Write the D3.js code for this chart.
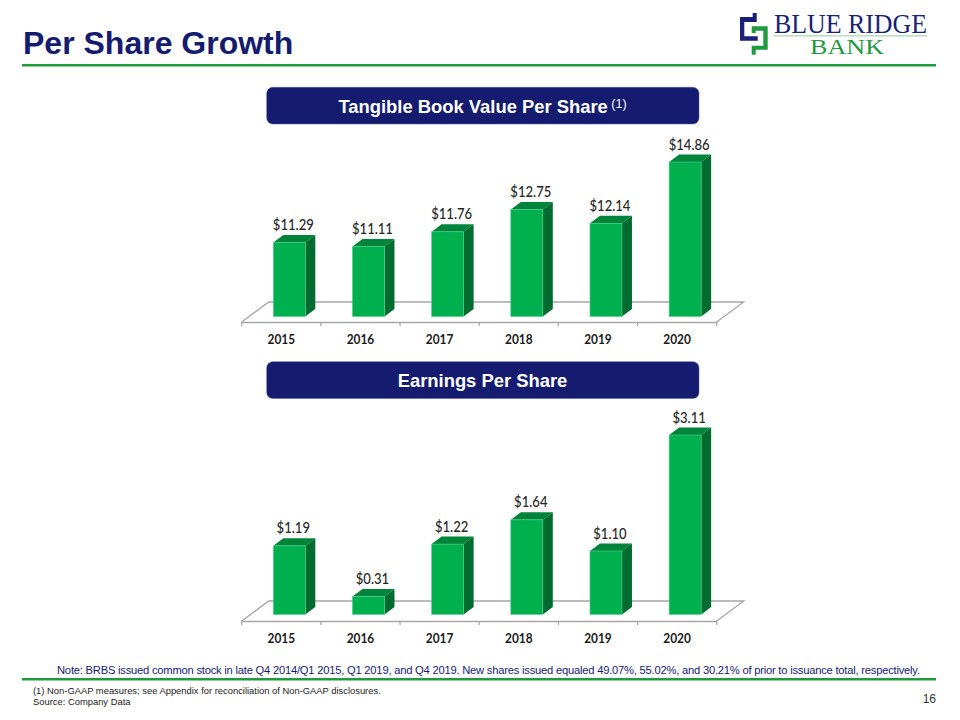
<!DOCTYPE html>
<html>
<head>
<meta charset="utf-8">
<script src="https://cdn.jsdelivr.net/npm/d3@7"></script>
<style>
  html, body { margin: 0; padding: 0; background: #fff; }
  svg { display: block; }
</style>
</head>
<body>
<svg width="960" height="720"></svg>
<script>
const years = ["2015", "2016", "2017", "2018", "2019", "2020"];
const tbvValues = [11.29, 11.11, 11.76, 12.75, 12.14, 14.86];
const epsValues = [1.19, 0.31, 1.22, 1.64, 1.10, 3.11];

const navy = "#151c70";
const green = "#1f9a3e";
const sans = "'Liberation Sans', Arial, sans-serif";
const labelFont = "Lato, Carlito, sans-serif";
const svg = d3.select("svg");

// squeeze Lato down to about the width Calibri had in the slide
function narrow(sel, k) {
  sel.each(function () {
    d3.select(this).attr("textLength", this.getComputedTextLength() * k).attr("lengthAdjust", "spacingAndGlyphs");
  });
}

// slide furniture
svg.append("text").attr("x", 23).attr("y", 54)
  .attr("font-family", sans).attr("font-weight", 700).attr("font-size", 32)
  .attr("fill", navy).text("Per Share Growth");

svg.append("rect").attr("x", 22).attr("y", 64).attr("width", 914).attr("height", 2.5).attr("fill", green);
svg.append("rect").attr("x", 22).attr("y", 678).attr("width", 914).attr("height", 2.5).attr("fill", green);

// logo
const logo = svg.append("g");
logo.append("path").attr("fill", "#1a1f78")
  .attr("d", "M752.7 13 H756.7 V22 H744.3 V36.3 H757.7 V40.7 H740 V17 H752.7 Z");
logo.append("path").attr("fill", green)
  .attr("d", "M751.7 26.3 H767.7 V49.7 H755.7 V54.7 H751.7 V45.7 H763.3 V30.7 H755.7 V33 H751.7 Z");
logo.append("text").attr("x", 774).attr("y", 33)
  .attr("font-family", "'Liberation Serif', serif").attr("font-size", 28).attr("fill", "#1a1f78")
  .attr("textLength", 153).attr("lengthAdjust", "spacingAndGlyphs").text("BLUE RIDGE");
logo.append("rect").attr("x", 774).attr("y", 35.5).attr("width", 153).attr("height", 0.8).attr("fill", "#7dbb8d");
logo.append("text").attr("x", 810).attr("y", 53.5)
  .attr("font-family", "'Liberation Serif', serif").attr("font-size", 21).attr("fill", green)
  .attr("textLength", 74).attr("lengthAdjust", "spacingAndGlyphs").text("BANK");

function banner(y, label, note) {
  svg.append("rect").attr("x", 266.7).attr("y", y).attr("width", 432.3).attr("height", 36.7).attr("rx", 6)
    .attr("fill", navy).attr("stroke", "#4a5a9a").attr("stroke-width", 0.5);
  const t = svg.append("text").attr("x", 482.5).attr("y", y + 25.4).attr("text-anchor", "middle")
    .attr("font-family", sans).attr("font-weight", 700).attr("font-size", 18.4).attr("fill", "#fff")
    .text(label);
  if (note) {
    t.append("tspan").attr("font-size", 12.5).attr("font-weight", 400).attr("dy", -5).text(" " + note);
  }
}
banner(87.3, "Tangible Book Value Per Share", "(1)");
banner(361.7, "Earnings Per Share");

function bars3d(values, domain, frontY, barBase, pxHeight) {
  const x = d3.scaleBand().domain(years).range([241.7, 716.7]);
  const y = d3.scaleLinear().domain(domain).range([barBase, barBase - pxHeight]);
  const dx = 10, dy = 7.5, barW = 32, floorX = 27, floorY = 20;
  const g = svg.append("g");

  // floor
  const left = x.range()[0], right = x.range()[1];
  g.append("path").attr("fill", "none").attr("stroke", "#a6a6a6").attr("stroke-width", 1.3)
    .attr("d", d3.line()([[left, frontY], [left + floorX, frontY - floorY], [right + floorX, frontY - floorY], [right, frontY]]));

  // category axis, ticks sit on the band edges
  const axis = g.append("g").attr("transform", `translate(0,${frontY})`)
    .call(d3.axisBottom(x).tickSize(0).tickPadding(12));
  axis.select(".domain").attr("stroke", "#a6a6a6").attr("stroke-width", 1.3);
  axis.selectAll("text").attr("font-family", labelFont).attr("font-weight", 700)
    .attr("font-size", 13.5).attr("fill", "#1a1a1a").call(narrow, 0.88);
  g.selectAll(".edge").data([...years.map(d => x(d)), right]).join("line").attr("class", "edge")
    .attr("x1", d => d).attr("x2", d => d).attr("y1", frontY).attr("y2", frontY + 4)
    .attr("stroke", "#a6a6a6").attr("stroke-width", 1.2);

  const bar = g.selectAll(".bar").data(values).join("g").attr("class", "bar")
    .attr("transform", (d, i) => `translate(${x(years[i]) + 31.6},0)`);
  bar.append("path").attr("fill", "#00843a")
    .attr("d", d => `M0 ${y(d)} l${dx} ${-dy} h${barW} l${-dx} ${dy} Z`);
  bar.append("path").attr("fill", "#006c2f")
    .attr("d", d => `M${barW} ${y(d)} l${dx} ${-dy} V${barBase - dy} l${-dx} ${dy} Z`);
  bar.append("rect").attr("width", barW).attr("y", d => y(d)).attr("height", d => barBase - y(d))
    .attr("fill", "#00b04f").attr("stroke", "#4fd08a").attr("stroke-width", 0.6);
  bar.append("text").attr("x", (barW + dx) / 2 - 1).attr("y", d => y(d) - 12.5).attr("text-anchor", "middle")
    .attr("font-family", labelFont).attr("font-weight", 500).attr("font-size", 14.5).attr("fill", "#262626")
    .text(d => "$" + d.toFixed(2)).call(narrow, 0.9);
}
bars3d(tbvValues, [8, 14.86], 322, 316.5, 154.5);
bars3d(epsValues, [0, 3.11], 621, 614.5, 179.5);

// notes
svg.append("text").attr("x", 57).attr("y", 674).attr("font-family", sans).attr("font-size", 11.2).attr("fill", navy)
  .attr("textLength", 863).attr("lengthAdjust", "spacing")
  .text("Note: BRBS issued common stock in late Q4 2014/Q1 2015, Q1 2019, and Q4 2019. New shares issued equaled 49.07%, 55.02%, and 30.21% of prior to issuance total, respectively.");
const foot = ["(1) Non-GAAP measures; see Appendix for reconciliation of Non-GAAP disclosures.", "Source: Company Data"];
svg.selectAll(".foot").data(foot).join("text").attr("class", "foot")
  .attr("x", 33).attr("y", (d, i) => 694 + i * 10.9)
  .attr("font-family", sans).attr("font-size", 9.4).attr("fill", "#222").text(d => d);
svg.append("text").attr("x", 936).attr("y", 703.3).attr("text-anchor", "end")
  .attr("font-family", sans).attr("font-size", 12).attr("fill", "#333").text("16");
</script>
</body>
</html>
